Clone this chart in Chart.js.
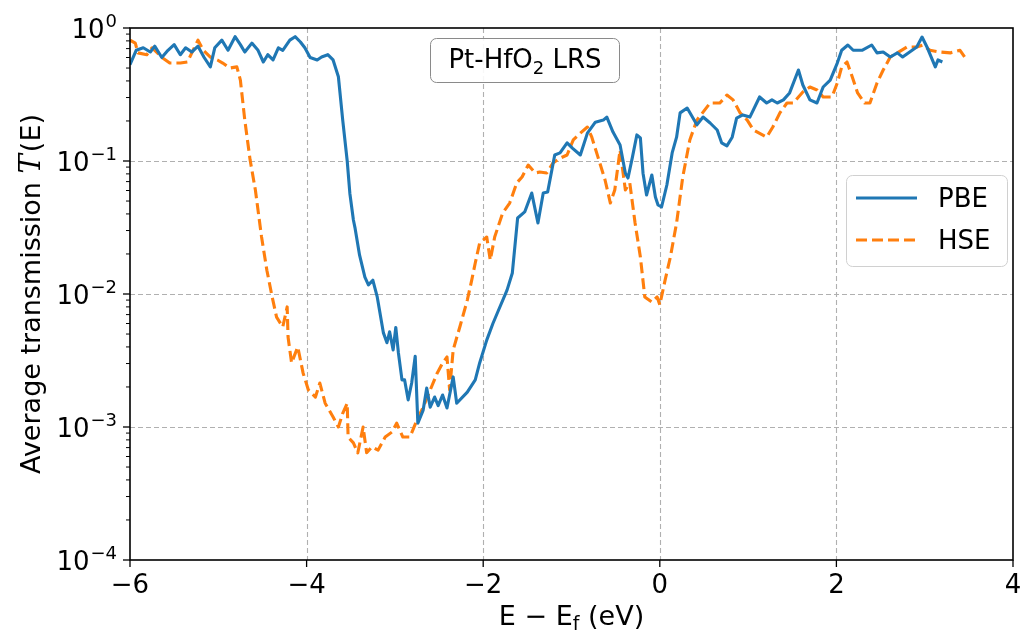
<!DOCTYPE html>
<html>
<head>
<meta charset="utf-8">
<script src="https://cdn.jsdelivr.net/npm/chart.js@4.4.1/dist/chart.umd.min.js"></script>
<style>
  html, body { margin: 0; padding: 0; background: #fff; }
  #wrap { width: 1023px; height: 634px; position: relative; }
</style>
</head>
<body>
<div id="wrap"><canvas id="trans"></canvas></div>
<script>
// energies (eV, relative to E_f) and average transmission
const pbeE = [-6.00,-5.93,-5.85,-5.77,-5.72,-5.64,-5.57,-5.50,-5.43,-5.37,
  -5.30,-5.23,-5.16,-5.09,-5.04,-4.96,-4.89,-4.81,-4.75,-4.70,
  -4.62,-4.55,-4.49,-4.44,-4.38,-4.32,-4.27,-4.19,-4.13,-4.07,
  -4.02,-3.96,-3.88,-3.83,-3.76,-3.70,-3.64,-3.59,-3.54,-3.51,
  -3.47,-3.45,-3.40,-3.34,-3.30,-3.25,-3.20,-3.13,-3.09,-3.06,
  -3.02,-2.99,-2.96,-2.92,-2.89,-2.85,-2.81,-2.77,-2.74,-2.68,
  -2.64,-2.60,-2.55,-2.51,-2.46,-2.41,-2.34,-2.30,-2.18,-2.09,
  -2.04,-1.96,-1.89,-1.84,-1.73,-1.67,-1.61,-1.53,-1.45,-1.38,
  -1.32,-1.27,-1.19,-1.13,-1.05,-0.99,-0.90,-0.82,-0.73,-0.64,
  -0.60,-0.53,-0.45,-0.39,-0.36,-0.31,-0.26,-0.22,-0.19,-0.15,
  -0.09,-0.05,-0.02,0.02,0.08,0.14,0.19,0.23,0.31,0.42,
  0.49,0.57,0.65,0.70,0.76,0.82,0.87,0.94,1.02,1.13,
  1.21,1.27,1.33,1.40,1.47,1.57,1.62,1.70,1.78,1.85,
  1.93,2.01,2.06,2.13,2.19,2.29,2.40,2.46,2.53,2.61,
  2.69,2.75,2.83,2.91,2.97,3.03,3.12,3.15,3.20];
const pbeT = [0.53,0.68,0.71,0.66,0.73,0.60,0.68,0.75,0.63,0.71,
  0.66,0.73,0.60,0.51,0.71,0.81,0.68,0.86,0.75,0.66,
  0.77,0.68,0.555,0.63,0.575,0.71,0.68,0.81,0.86,0.785,
  0.71,0.60,0.575,0.605,0.63,0.575,0.43,0.20,0.10,0.057,
  0.036,0.031,0.0196,0.0134,0.0117,0.0127,0.0095,0.0051,0.0043,0.0052,
  0.0038,0.0056,0.0036,0.00226,0.00226,0.0016,0.00214,0.0034,0.00107,0.00134,
  0.00196,0.00141,0.00168,0.00145,0.00174,0.00139,0.00238,0.00151,0.00183,0.00226,
  0.00303,0.0045,0.006,0.0072,0.0107,0.0144,0.0373,0.0414,0.0574,0.0342,
  0.0574,0.0585,0.111,0.115,0.137,0.125,0.111,0.162,0.196,0.203,
  0.214,0.165,0.132,0.081,0.0745,0.107,0.157,0.149,0.081,0.0555,
  0.0785,0.0536,0.0467,0.0451,0.066,0.115,0.151,0.23,0.25,0.187,
  0.214,0.193,0.171,0.137,0.13,0.151,0.21,0.222,0.214,0.303,
  0.273,0.288,0.273,0.288,0.325,0.483,0.373,0.288,0.273,0.36,
  0.406,0.545,0.68,0.745,0.68,0.68,0.745,0.65,0.66,0.605,
  0.65,0.605,0.66,0.72,0.855,0.71,0.51,0.575,0.555];

const hseE = [-6.00,-5.94,-5.91,-5.81,-5.75,-5.69,-5.63,-5.55,-5.43,-5.35,
  -5.30,-5.23,-5.17,-5.09,-5.01,-4.95,-4.87,-4.79,-4.75,-4.70,
  -4.64,-4.58,-4.51,-4.45,-4.39,-4.34,-4.27,-4.22,-4.21,-4.17,
  -4.10,-4.04,-3.98,-3.90,-3.85,-3.79,-3.70,-3.64,-3.59,-3.54,
  -3.53,-3.47,-3.42,-3.36,-3.32,-3.26,-3.19,-3.11,-3.03,-2.98,
  -2.91,-2.83,-2.75,-2.68,-2.60,-2.52,-2.46,-2.41,-2.38,-2.34,
  -2.26,-2.18,-2.13,-2.09,-2.04,-1.96,-1.92,-1.87,-1.78,-1.70,
  -1.62,-1.56,-1.49,-1.41,-1.36,-1.28,-1.21,-1.13,-1.05,-0.98,
  -0.90,-0.82,-0.77,-0.70,-0.62,-0.56,-0.51,-0.45,-0.39,-0.34,
  -0.28,-0.22,-0.17,-0.09,-0.03,0.00,0.06,0.12,0.19,0.26,
  0.34,0.42,0.49,0.57,0.68,0.76,0.83,0.91,0.99,1.06,
  1.21,1.28,1.36,1.44,1.51,1.62,1.70,1.78,1.85,1.95,
  2.01,2.06,2.12,2.18,2.24,2.32,2.38,2.46,2.53,2.61,
  2.69,2.80,2.91,2.98,3.06,3.17,3.29,3.40,3.46];
const hseT = [0.81,0.77,0.65,0.63,0.71,0.65,0.595,0.545,0.545,0.555,
  0.65,0.81,0.68,0.605,0.575,0.545,0.50,0.51,0.406,0.203,
  0.102,0.0605,0.0268,0.0151,0.0095,0.0067,0.00565,0.008,0.00475,0.00303,
  0.004,0.00255,0.0019,0.00168,0.00214,0.00151,0.00119,0.001,0.00127,0.00151,
  0.00084,0.00076,0.00064,0.001,0.00064,0.00071,0.00067,0.00084,0.00092,0.00107,
  0.00084,0.00084,0.00113,0.00141,0.0019,0.00255,0.00303,0.00336,0.0019,0.0038,
  0.0058,0.009,0.0127,0.0171,0.0242,0.0268,0.018,0.0268,0.0406,0.0483,
  0.0684,0.0758,0.0933,0.0813,0.0826,0.0813,0.0966,0.105,0.111,0.144,
  0.162,0.18,0.151,0.107,0.072,0.0483,0.0605,0.121,0.0605,0.0684,
  0.0342,0.019,0.0095,0.0087,0.0095,0.0083,0.0127,0.019,0.0342,0.0758,
  0.144,0.203,0.233,0.273,0.273,0.313,0.288,0.23,0.203,0.171,
  0.151,0.18,0.23,0.273,0.273,0.33,0.36,0.342,0.303,0.303,
  0.386,0.509,0.555,0.428,0.325,0.273,0.273,0.386,0.483,0.605,
  0.65,0.72,0.72,0.745,0.68,0.66,0.65,0.68,0.595];

const xTicks = [-6, -4, -2, 0, 2, 4];
const yExps = [0, -1, -2, -3, -4];
const seriesNames = ['PBE', 'HSE'];

const BLUE = '#1f77b4';
const ORANGE = '#ff7f0e';
const FONT = '"DejaVu Sans", sans-serif';
const LW = 3.1;
const HSE_DASH = [11, 5];

const toPoints = (xs, ys) => xs.map((v, i) => ({ x: v, y: ys[i] }));

// matplotlib-style frame, ticks, labels and the boxes
const decor = {
    id: 'decor',
    beforeDatasetsDraw(chart) {
        const { ctx, chartArea: a, scales: { x, y } } = chart;
        ctx.save();
        ctx.strokeStyle = '#b0b0b0';
        ctx.lineWidth = 1.1;
        ctx.setLineDash([5, 3]);
        xTicks.slice(1, -1).forEach(v => {
            const px = Math.round(x.getPixelForValue(v)) + 0.5;
            ctx.beginPath(); ctx.moveTo(px, a.top); ctx.lineTo(px, a.bottom); ctx.stroke();
        });
        yExps.slice(1, -1).forEach(e => {
            const py = Math.round(y.getPixelForValue(Math.pow(10, e))) + 0.5;
            ctx.beginPath(); ctx.moveTo(a.left, py); ctx.lineTo(a.right, py); ctx.stroke();
        });
        ctx.restore();
    },
    afterDatasetsDraw(chart) {
        const { ctx, chartArea: a, scales: { x, y } } = chart;
        ctx.save();
        ctx.fillStyle = '#000';
        ctx.strokeStyle = '#000';

        // x ticks + labels
        ctx.lineWidth = 1.3;
        ctx.font = '26px ' + FONT;
        ctx.textAlign = 'center';
        ctx.textBaseline = 'alphabetic';
        xTicks.forEach(v => {
            const px = x.getPixelForValue(v);
            ctx.beginPath(); ctx.moveTo(px, a.bottom); ctx.lineTo(px, a.bottom + 7); ctx.stroke();
            const txt = v < 0 ? '\u2212' + Math.abs(v) : String(v);
            ctx.fillText(txt, px, a.bottom + 33);
        });

        // y ticks (major + minor) + labels
        yExps.forEach(e => {
            const py = y.getPixelForValue(Math.pow(10, e));
            ctx.lineWidth = 1.3;
            ctx.beginPath(); ctx.moveTo(a.left - 7, py); ctx.lineTo(a.left, py); ctx.stroke();
            if (e > yExps[yExps.length - 1]) {
                ctx.lineWidth = 1;
                for (let m = 2; m <= 9; m++) {
                    const pm = y.getPixelForValue(m * Math.pow(10, e - 1));
                    ctx.beginPath(); ctx.moveTo(a.left - 4, pm); ctx.lineTo(a.left, pm); ctx.stroke();
                }
            }
            const sup = e < 0 ? '\u2212' + Math.abs(e) : String(e);
            ctx.textAlign = 'left';
            ctx.font = '18px ' + FONT;
            const ws = ctx.measureText(sup).width;
            ctx.font = '26px ' + FONT;
            const wb = ctx.measureText('10').width;
            const right = a.left - 13;
            ctx.fillText('10', right - ws - wb - 1, py + 10);
            ctx.font = '18px ' + FONT;
            ctx.fillText(sup, right - ws, py - 1);
        });

        // frame
        ctx.lineWidth = 1.6;
        ctx.strokeRect(a.left, a.top, a.right - a.left, a.bottom - a.top);

        // x axis label: E − E_f (eV)
        ctx.textAlign = 'left';
        ctx.font = '27px ' + FONT;
        const p1 = 'E \u2212 E', p3 = ' (eV)';
        const w1 = ctx.measureText(p1).width, w3 = ctx.measureText(p3).width;
        ctx.font = '19px ' + FONT;
        const w2 = ctx.measureText('f').width;
        let sx = (a.left + a.right) / 2 - (w1 + w2 + w3) / 2;
        const base = 625;
        ctx.font = '27px ' + FONT;
        ctx.fillText(p1, sx, base);
        ctx.font = '19px ' + FONT;
        ctx.fillText('f', sx + w1, base + 5);
        ctx.font = '27px ' + FONT;
        ctx.fillText(p3, sx + w1 + w2, base);

        // y axis label: Average transmission T(E)
        ctx.save();
        ctx.translate(40, (a.top + a.bottom) / 2);
        ctx.rotate(-Math.PI / 2);
        const q1 = 'Average transmission ', q3 = '(E)';
        ctx.font = '27px ' + FONT;
        const v1 = ctx.measureText(q1).width, v3 = ctx.measureText(q3).width;
        ctx.font = 'italic 29px "DejaVu Serif", serif';
        const v2 = ctx.measureText('T').width + 2;
        let sy = -(v1 + v2 + v3) / 2;
        ctx.font = '27px ' + FONT;
        ctx.fillText(q1, sy, 0);
        ctx.font = 'italic 29px "DejaVu Serif", serif';
        ctx.fillText('T', sy + v1, 0);
        ctx.font = '27px ' + FONT;
        ctx.fillText(q3, sy + v1 + v2, 0);
        ctx.restore();

        // annotation box: Pt-HfO2 LRS
        ctx.fillStyle = 'rgba(255,255,255,0.9)';
        ctx.strokeStyle = '#8a8a8a';
        ctx.lineWidth = 1;
        ctx.beginPath(); ctx.roundRect(430.5, 38.5, 189, 44, 6); ctx.fill(); ctx.stroke();
        ctx.fillStyle = '#000';
        ctx.font = '26px ' + FONT;
        const t1 = 'Pt-HfO', t3 = ' LRS';
        const u1 = ctx.measureText(t1).width, u3 = ctx.measureText(t3).width;
        ctx.font = '18px ' + FONT;
        const u2 = ctx.measureText('2').width;
        let tx = 525 - (u1 + u2 + u3) / 2;
        ctx.font = '26px ' + FONT;
        ctx.fillText(t1, tx, 68);
        ctx.font = '18px ' + FONT;
        ctx.fillText('2', tx + u1, 74);
        ctx.font = '26px ' + FONT;
        ctx.fillText(t3, tx + u1 + u2, 68);

        // legend
        ctx.fillStyle = 'rgba(255,255,255,0.85)';
        ctx.strokeStyle = '#d0d0d0';
        ctx.lineWidth = 1;
        ctx.beginPath(); ctx.roundRect(846.5, 175.5, 161, 91, 6); ctx.fill(); ctx.stroke();
        const rows = [{ c: BLUE, d: [], y: 198 }, { c: ORANGE, d: HSE_DASH, y: 240 }];
        rows.forEach((r, i) => {
            ctx.strokeStyle = r.c;
            ctx.lineWidth = LW;
            ctx.setLineDash(r.d);
            ctx.beginPath(); ctx.moveTo(856, r.y); ctx.lineTo(917, r.y); ctx.stroke();
            ctx.setLineDash([]);
            ctx.fillStyle = '#000';
            ctx.font = '26px ' + FONT;
            ctx.textAlign = 'left';
            ctx.fillText(seriesNames[i], 938, r.y + 9);
        });
        ctx.restore();
    }
};

new Chart(document.getElementById('trans'), {
    type: 'line',
    data: {
        datasets: [{
            label: seriesNames[0],
            data: toPoints(pbeE, pbeT),
            borderColor: BLUE,
            borderWidth: LW,
            borderJoinStyle: 'round',
            pointRadius: 0,
            tension: 0,
            fill: false
        }, {
            label: seriesNames[1],
            data: toPoints(hseE, hseT),
            borderColor: ORANGE,
            borderWidth: LW,
            borderDash: HSE_DASH,
            borderJoinStyle: 'round',
            pointRadius: 0,
            tension: 0,
            fill: false
        }]
    },
    options: {
        animation: false,
        responsive: true,
        maintainAspectRatio: false,
        devicePixelRatio: 1,
        layout: { padding: { top: 28, right: 10, left: 0, bottom: 0 } },
        plugins: { legend: { display: false }, tooltip: { enabled: false } },
        scales: {
            x: {
                type: 'linear', min: -6, max: 4,
                ticks: { display: false },
                grid: { display: false },
                border: { display: false },
                afterFit(s) { s.height = 74; }
            },
            y: {
                type: 'logarithmic', min: 1e-4, max: 1,
                ticks: { display: false },
                grid: { display: false },
                border: { display: false },
                afterFit(s) { s.width = 130; }
            }
        }
    },
    plugins: [decor]
});
</script>
</body>
</html>
